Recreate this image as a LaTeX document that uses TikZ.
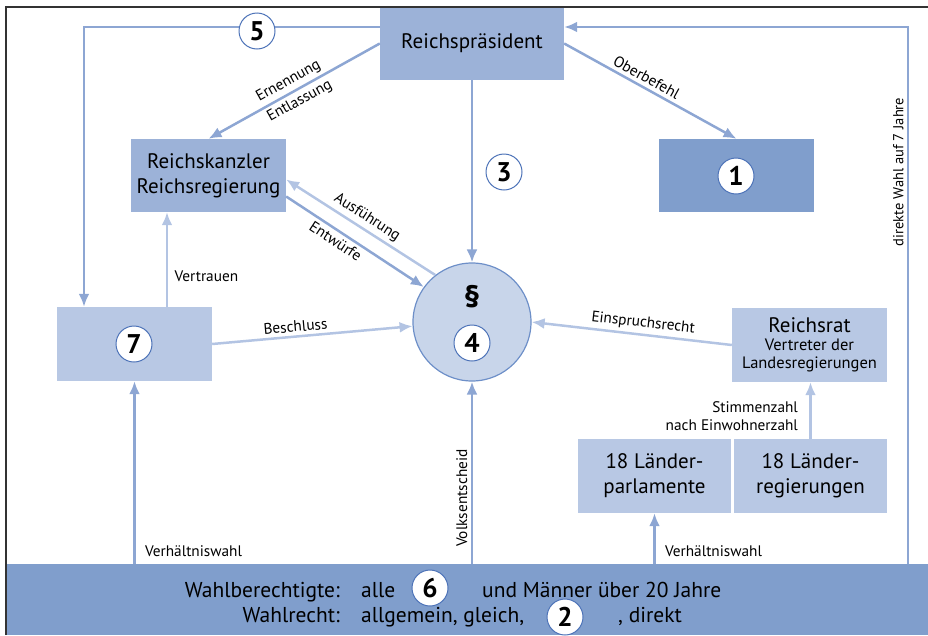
\documentclass[tikz,border=0pt]{standalone}
\usepackage{fontspec}
\setmainfont{PT Sans}
\usetikzlibrary{arrows.meta}

\definecolor{boxmid}{HTML}{9CB2D8}
\definecolor{boxdark}{HTML}{809ECC}
\definecolor{boxlight}{HTML}{B8C8E4}
\definecolor{circfill}{HTML}{C8D5EA}
\definecolor{circline}{HTML}{6D8FC8}
\definecolor{arrmid}{HTML}{8DA6D3}
\definecolor{arrlight}{HTML}{B3C4E3}
\definecolor{numline}{HTML}{4D73B8}

\tikzset{
  box/.style={rectangle, fill=boxmid, inner sep=2pt, align=center,
    font=\fontsize{21}{25}\selectfont},
  num/.style={circle, draw=numline, line width=1pt, fill=white,
    minimum size=36pt, inner sep=0pt, font=\bfseries\fontsize{27}{27}\selectfont},
  arr/.style={draw=arrmid, line width=2.5pt, -{Latex[length=13pt,width=11pt]}},
  lightarr/.style={arr, draw=arrlight},
  lbl/.style={font=\fontsize{15.3}{18}\selectfont, text=black},
  txt/.style={inner sep=0pt, font=\fontsize{21.5}{25}\selectfont},
}
\newcommand{\subfont}{\fontsize{16.5}{18}\selectfont}

\begin{document}
\begin{tikzpicture}[x=1pt, y=-1pt]
\useasboundingbox (0,0) rectangle (928,635);

% boxes
\node[box, fill=boxdark, minimum width=921pt, minimum height=71pt] (band) at (467.5,599.5) {};
\node[box, minimum width=184pt, minimum height=73pt] (praes) at (472,43.5) {Reichspräsident};
\node[box, minimum width=155pt, minimum height=73pt] (kanzler) at (208.5,175.5) {Reichskanzler\\Reichsregierung};
\node[box, fill=boxdark, minimum width=155pt, minimum height=73pt] (heer) at (736.5,175.5) {};
\node[box, fill=boxlight, minimum width=155pt, minimum height=74pt] (tag) at (134.5,344) {};
\node[circle, fill=circfill, draw=circline, line width=1.2pt, minimum size=118pt] (gesetz) at (472,322) {};
\node[box, fill=boxlight, minimum width=155pt, minimum height=74pt, font=\fontsize{21}{18}\selectfont] (rat) at (809.5,345)
  {Reichsrat\\\subfont Vertreter der\\\subfont Landesregierungen};
\node[box, fill=boxlight, minimum width=153pt, minimum height=74pt] (parl) at (654.5,476) {18 Länder-\\parlamente};
\node[box, fill=boxlight, minimum width=153pt, minimum height=74pt] (regier) at (810.5,476) {18 Länder-\\regierungen};

% frame
\draw[line width=2pt, black!80] (6,635) -- (6,7) -- (928,7);

% connectors
\coordinate (tl) at (84,27);
\coordinate (tr) at (908,27);
\draw[arr] (praes.west |- tl) -- (tl) -- (tl |- tag.north);
\draw[arr] (tr |- band.north) -- node[lbl, font=\fontsize{14.5}{18}\selectfont, sloped, above, pos=0.73]{direkte Wahl auf 7 Jahre} (tr) -- (praes.east |- tr);
\draw[arr] (praes.west) -- node[lbl, sloped, above]{Ernennung} node[lbl, sloped, below]{Entlassung} (kanzler.north);
\draw[arr] (praes.east) -- node[lbl, sloped, above, pos=0.45]{Oberbefehl} (heer.north);
\draw[arr] (praes.south) -- (gesetz.north);
\draw[lightarr] (gesetz.128) -- node[lbl, sloped, above]{Ausführung} ([yshift=-4pt]kanzler.east);
\draw[arr] ([yshift=-21pt]kanzler.east) -- node[lbl, sloped, below, pos=0.4]{Entwürfe} (gesetz.144);
\draw[lightarr] ([xshift=32.5pt]tag.north) -- node[lbl, right, pos=0.32, xshift=3pt]{Vertrauen} ([xshift=32.5pt]tag.north |- kanzler.south);
\draw[lightarr] (tag.east) -- node[lbl, sloped, above, pos=0.42]{Beschluss} (gesetz.184);
\draw[lightarr] (rat.west) -- node[lbl, sloped, above, pos=0.45]{Einspruchsrecht} (gesetz.east);
\draw[lightarr] (regier.north) -- node[lbl, left, align=right, pos=0.4, xshift=-8pt]{Stimmenzahl\\nach Einwohnerzahl} (regier.north |- rat.south);
\draw[arr] (band.north -| tag.south) -- node[lbl, pos=0, anchor=base west, xshift=6pt, yshift=7pt]{Verhältniswahl} (tag.south);
\draw[arr] (band.north -| gesetz.south) -- node[lbl, sloped, above, pos=0.36]{Volksentscheid} (gesetz.south);
\draw[arr] (band.north -| parl.south) -- node[lbl, pos=0, anchor=base west, xshift=6pt, yshift=7pt]{Verhältniswahl} (parl.south);

% numbers
\node[num] (n5) at (257,31) {5};
\node[num] (n3) at (504,172) {3};
\node[num] (n1) at (736,176) {1};
\node[num] (n7) at (134,344) {7};
\node[num] (n4) at (472,343) {4};
\node[font=\bfseries\fontsize{31}{31}\selectfont] (para) at (472,297) {\S};

% band text
\node[txt, anchor=base east] (wb) at (340,597) {Wahlberechtigte:};
\node[txt, anchor=base west] (alle) at (361,597) {alle};
\node[num] (n6) at (430,588) {6};
\node[txt, anchor=base west] (maenner) at (482,597) {und Männer über 20 Jahre};
\node[txt, anchor=base east] (wr) at (340,622) {Wahlrecht:};
\node[txt, anchor=base west] (allg) at (361,622) {allgemein, gleich,};
\node[num] (n2) at (565,617) {2};
\node[txt, anchor=base west] (direkt) at (618,622) {, direkt};
\end{tikzpicture}
\end{document}
